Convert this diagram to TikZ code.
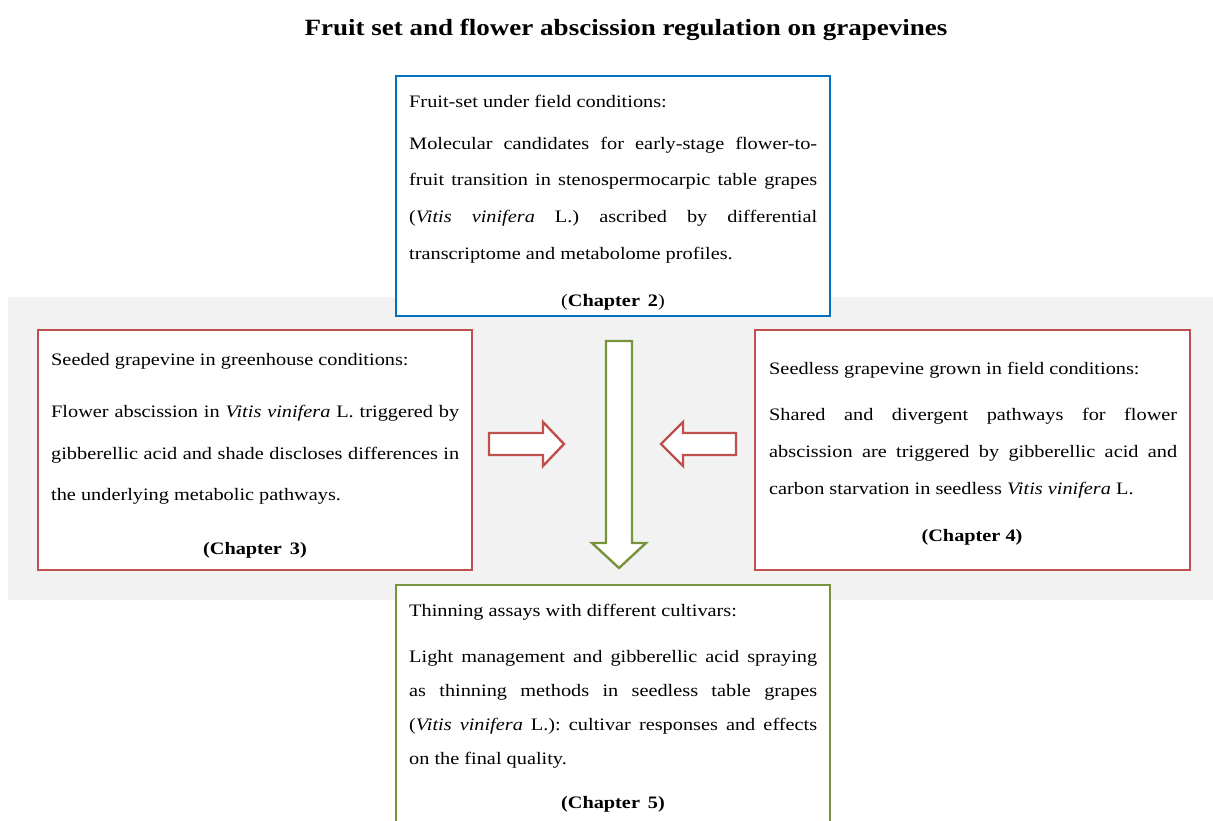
\documentclass[tikz,border=0pt]{standalone}
\usepackage{fontspec}
\setmainfont[FakeStretch=1.16]{Liberation Serif}
\definecolor{bandgray}{HTML}{F2F2F2}
\definecolor{boxblue}{HTML}{0070C0}
\definecolor{boxred}{HTML}{C0504D}
\definecolor{boxgreen}{HTML}{77933C}
\frenchspacing
\begin{document}
\begin{tikzpicture}[x=1pt,y=-1pt,
  frame/.style={line width=2pt,fill=white},
  txt/.style={anchor=west,inner sep=0pt,font=\fontsize{17.5}{20}\selectfont},
  chap/.style={anchor=center,inner sep=0pt,font=\fontsize{17.5}{20}\selectfont\bfseries},
  fatarrow/.style={line width=2.4pt,fill=white,line join=miter}]
\useasboundingbox (0,0) rectangle (1213,821);
\clip (0,0) rectangle (1213,821);
\newcommand{\jline}[1]{\makebox[408pt][s]{#1}}

% title
\node[font=\fontsize{23.3}{27}\selectfont\bfseries] (title) at (626,30) {Fruit set and flower abscission regulation on grapevines};

% shaded band behind the middle row
\fill[bandgray] (8,297) rectangle (1213,600);

% framed boxes
\draw[frame,draw=boxblue]  (396,76)  rectangle (830,316);
\draw[frame,draw=boxred]   (38,330)  rectangle (472,570);
\draw[frame,draw=boxred]   (755,330) rectangle (1190,570);
\draw[frame,draw=boxgreen] (396,585) rectangle (830,830);

% fruit-set box
\node[txt] (b1) at (409,101) {Fruit-set under field conditions:};
\node[txt] (b2) at (409,145) {\jline{Molecular candidates for early-stage flower-to-}};
\node[txt] (b3) at (409,181) {\jline{fruit transition in stenospermocarpic table grapes}};
\node[txt] (b4) at (409,218) {\jline{(\textit{Vitis vinifera} L.) ascribed by differential}};
\node[txt] (b5) at (409,255) {transcriptome and metabolome profiles.};
\node[chap] (c2) at (613,302) {\mdseries(\bfseries Chapter\, 2\mdseries)};

% seeded grapevine box
\node[txt] (l1) at (51,361) {Seeded grapevine in greenhouse conditions:};
\node[txt] (l2) at (51,413) {\jline{Flower abscission in \textit{Vitis vinifera} L. triggered by}};
\node[txt] (l3) at (51,455) {\jline{gibberellic acid and shade discloses differences in}};
\node[txt] (l4) at (51,496) {the underlying metabolic pathways.};
\node[chap] (c3) at (255,550) {(Chapter\, 3)};

% seedless grapevine box
\node[txt] (r1) at (769,370) {Seedless grapevine grown in field conditions:};
\node[txt] (r2) at (769,416) {\jline{Shared and divergent pathways for flower}};
\node[txt] (r3) at (769,453) {\jline{abscission are triggered by gibberellic acid and}};
\node[txt] (r4) at (769,490) {carbon starvation in seedless \textit{Vitis vinifera} L.};
\node[chap] (c4) at (972,537) {(Chapter 4)};

% thinning box
\node[txt] (g1) at (409,612) {Thinning assays with different cultivars:};
\node[txt] (g2) at (409,658) {\jline{Light management and gibberellic acid spraying}};
\node[txt] (g3) at (409,692) {\jline{as thinning methods in seedless table grapes}};
\node[txt] (g4) at (409,726) {\jline{(\textit{Vitis vinifera} L.): cultivar responses and effects}};
\node[txt] (g5) at (409,760) {on the final quality.};
\node[chap] (c5) at (613,804) {(Chapter\, 5)};

% block arrows
\draw[fatarrow,draw=boxgreen] (606,341) -- (632,341) -- (632,543) -- (646,543) -- (619,568)
  -- (592,543) -- (606,543) -- cycle;
\draw[fatarrow,draw=boxred] (489,433) -- (543,433) -- (543,422) -- (564,444) -- (543,466)
  -- (543,455) -- (489,455) -- cycle;
\draw[fatarrow,draw=boxred] (736,433) -- (683,433) -- (683,422) -- (661,444) -- (683,466)
  -- (683,455) -- (736,455) -- cycle;
\end{tikzpicture}
\end{document}
